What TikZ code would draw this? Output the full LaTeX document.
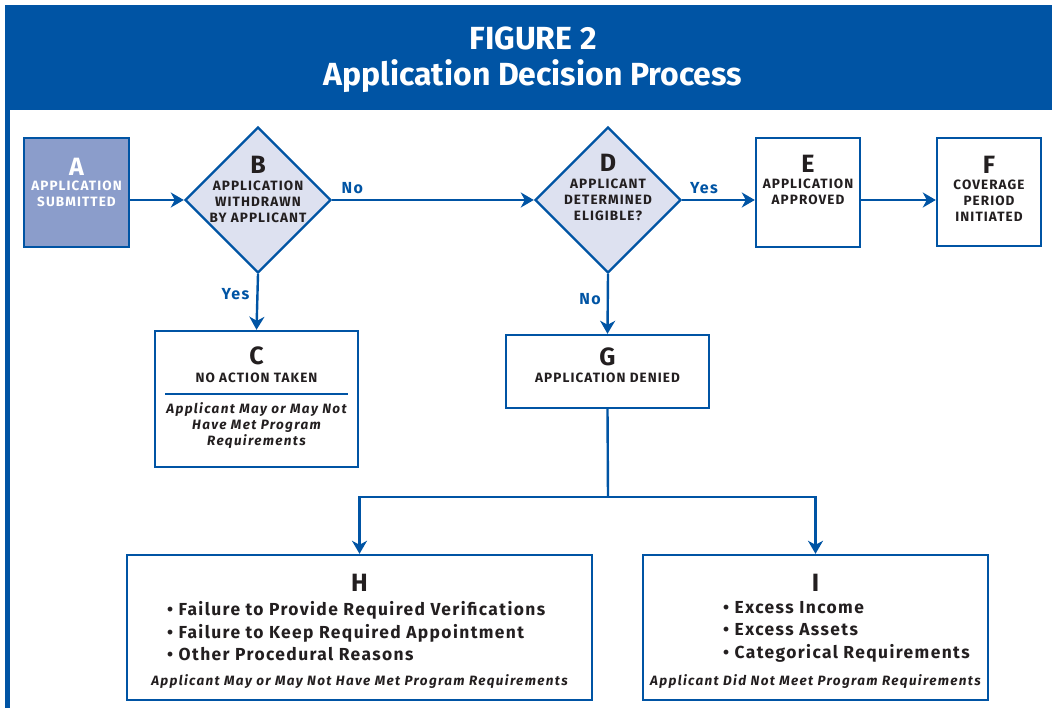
\documentclass[tikz,border=0pt]{standalone}
\usepackage{fontspec}
\setmainfont{Fira Sans}
\newfontfamily\lab[LetterSpace=8]{Fira Sans}
\newfontfamily\labi[LetterSpace=10]{Fira Sans}
\usetikzlibrary{shapes.geometric,arrows.meta}
\definecolor{hdr}{RGB}{0,84,164}
\definecolor{boxA}{RGB}{139,157,203}
\definecolor{dia}{RGB}{221,225,240}
\definecolor{ink}{RGB}{35,31,32}
\tikzset{
  box/.style={draw=hdr,line width=2.4pt,fill=white,inner sep=0pt,rectangle},
  dec/.style={draw=hdr,line width=2.4pt,fill=dia,diamond,aspect=1,inner sep=0pt,minimum width=146pt,minimum height=146pt},
  conn/.style={draw=hdr,line width=2.4pt},
  arr/.style={conn,-{Stealth[length=13pt,width=15pt,inset=4pt]}},
  big/.style={font=\bfseries\fontsize{25}{26}\selectfont,text=ink,inner sep=0pt},
  captxt/.style={font=\lab\bfseries\fontsize{13.5}{16}\selectfont,text=ink,inner sep=0pt,align=center},
  ital/.style={font=\labi\bfseries\itshape\fontsize{13.5}{16}\selectfont,text=ink,inner sep=0pt,align=center},
  bul/.style={font=\lab\bfseries\fontsize{17.4}{22.5}\selectfont,text=ink,inner sep=0pt,align=left,anchor=west},
  yn/.style={font=\lab\bfseries\fontsize{16}{18}\selectfont,text=hdr,inner sep=0pt},
  ttl/.style={font=\bfseries\fontsize{32}{38}\selectfont,text=white,inner sep=0pt}
}
\begin{document}
\begin{tikzpicture}[x=1pt,y=-1pt]
\useasboundingbox (0,0) rectangle (1052,708);
% header and left rule
\fill[hdr] (5,5) rectangle (1052,110);
\fill[hdr] (5,5) rectangle (10,708);
\node[ttl] (t1) at (533,38) {FIGURE 2};
\node[ttl] (t2) at (533,76) {Application Decision Process};

% boxes
\node[box,fill=boxA,minimum width=105pt,minimum height=109pt] (A) at (76.5,192.5) {};
\node[dec] (B) at (258,200) {};
\node[dec] (D) at (608,200) {};
\node[box,minimum width=104pt,minimum height=109pt] (E) at (808,192.5) {};
\node[box,minimum width=104pt,minimum height=108pt] (F) at (989,192) {};
\node[box,minimum width=203pt,minimum height=136pt] (C) at (256.5,399) {};
\node[box,minimum width=203pt,minimum height=73pt] (G) at (607.5,371.5) {};
\node[box,minimum width=465pt,minimum height=145pt] (H) at (359.5,627.5) {};
\node[box,minimum width=345pt,minimum height=145pt] (I) at (815.5,627.5) {};

% texts
\node[big,text=white] (Aa) at (76.5,167) {A};
\node[captxt,text=white] (At) at (76.5,194) {APPLICATION\\SUBMITTED};
\node[big] (Ba) at (258,165) {B};
\node[captxt] (Bt) at (258,202) {APPLICATION\\WITHDRAWN\\BY APPLICANT};
\node[big] (Da) at (608,163) {D};
\node[captxt] (Dt) at (608,200) {APPLICANT\\DETERMINED\\ELIGIBLE?};
\node[big] (Ea) at (808,164) {E};
\node[captxt] (Et) at (808,192) {APPLICATION\\APPROVED};
\node[big] (Fa) at (989,165) {F};
\node[captxt] (Ft) at (989,201) {COVERAGE\\PERIOD\\INITIATED};
\node[big] (Ca) at (256.5,356) {C};
\node[captxt] (Ct) at (256.5,378) {NO ACTION TAKEN};
\draw[hdr,line width=2pt] (165,394) -- (348,394);
\node[ital] (Ci) at (256.5,426) {Applicant May or May Not\\Have Met Program\\Requirements};
\node[big] (Ga) at (607.5,357) {G};
\node[captxt] (Gt) at (607.5,378) {APPLICATION DENIED};
\node[big] (Ha) at (359.5,583) {H};
\node[bul] (Hb) at (167,631.5) {\textbullet\ Failure to Provide Required Verifications\\\textbullet\ Failure to Keep Required Appointment\\\textbullet\ Other Procedural Reasons};
\node[ital] (Hi) at (359.5,682) {Applicant May or May Not Have Met Program Requirements};
\node[big] (Ia) at (815.5,583) {I};
\node[bul] (Ib) at (723,631.5) {\textbullet\ Excess Income\\\textbullet\ Excess Assets\\\textbullet\ Categorical Requirements};
\node[ital] (Ii) at (815.5,682) {Applicant Did Not Meet Program Requirements};

% connectors
\draw[arr] (A.east |- B.west) -- (B.west);
\draw[arr] (B.east) -- node[yn,pos=0.1,above=5pt] (no1) {No} (D.west);
\draw[arr] (D.east) -- node[yn,pos=0.3,above=5pt] (yes2) {Yes} (D.east -| E.west);
\draw[arr] (E.east |- D.east) -- (F.west |- D.east);
\draw[arr] (B.south) -- node[yn,pos=0.35,left=7pt] (yes1) {Yes} (C.north);
\draw[arr] (D.south) -- node[yn,pos=0.42,left=6pt] (no2) {No} (G.north);
\coordinate (J) at (608,497);
\draw[conn] (G.south) -- (J);
\draw[arr] (J) -| (H.north);
\draw[arr] (J) -| (I.north);
\end{tikzpicture}
\end{document}
